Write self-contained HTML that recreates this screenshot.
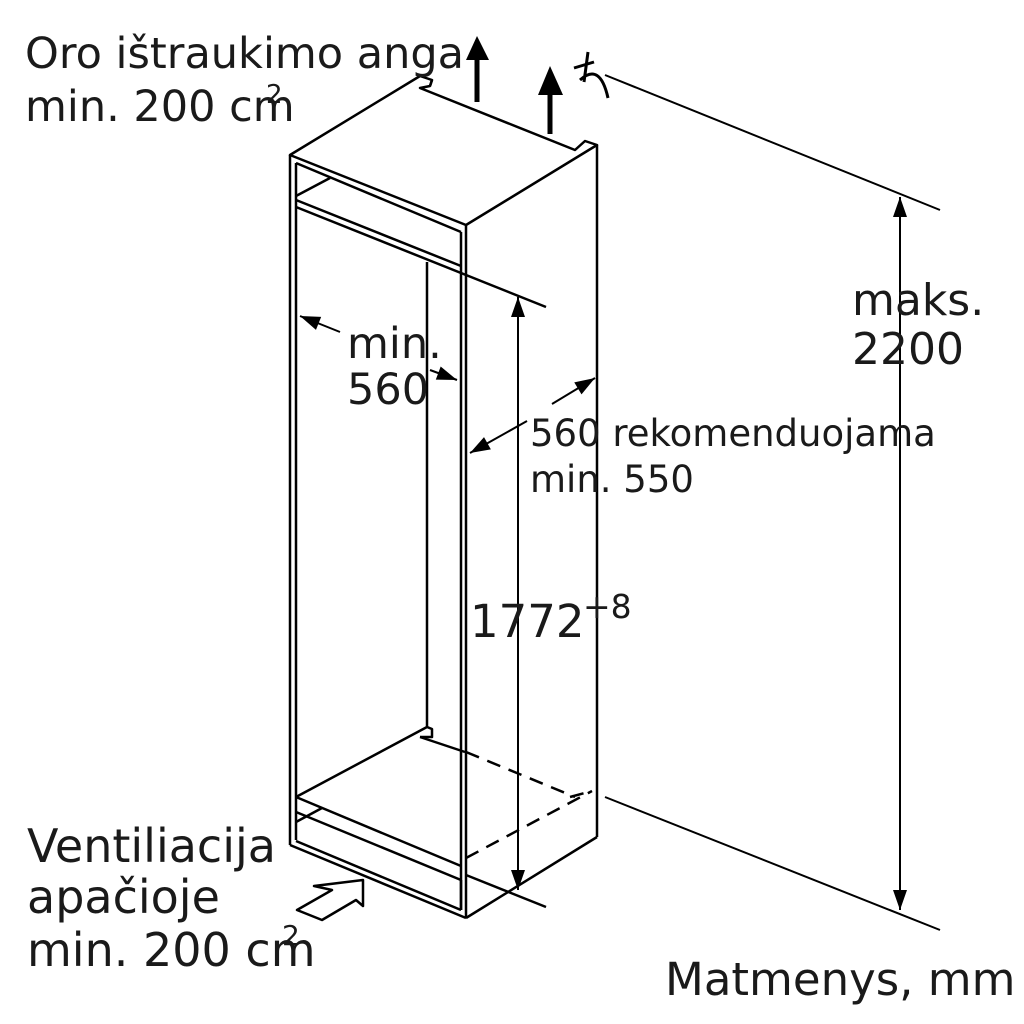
<!DOCTYPE html>
<html><head><style>body{margin:0;background:#fff}svg{display:block}</style></head><body>
<svg width="1024" height="1024" viewBox="0 0 1024 1024" xmlns="http://www.w3.org/2000/svg">
<defs>
<marker id="a" viewBox="0 0 10 10" refX="10" refY="5" markerWidth="22" markerHeight="20" markerUnits="userSpaceOnUse" orient="auto"><path d="M0,1.5 L10,5 L0,8.5 z" fill="#000"/></marker>
</defs>
<g stroke="#000" stroke-width="2.5" fill="none" stroke-linejoin="round">
<path d="M290,155 L420,76 L432,80 L430,86 L420,88 L575,150 L585,141 L597,145 L466,225 Z"/>
<path d="M430,86 L432,80"/>
<line x1="290" y1="155" x2="290" y2="845"/>
<line x1="296" y1="163" x2="296" y2="840"/>
<line x1="466" y1="225" x2="466" y2="918"/>
<line x1="461" y1="232" x2="461" y2="910"/>
<line x1="597" y1="145" x2="597" y2="837"/>
<line x1="427" y1="262" x2="427" y2="727"/>
<line x1="296" y1="163" x2="461" y2="232"/>
<line x1="296" y1="200" x2="461" y2="266"/>
<line x1="296" y1="207" x2="546" y2="307"/>
<line x1="296" y1="196" x2="330" y2="178"/>
<path d="M296,797 L427,727 L432,729 L432,737 L420,737"/>
<line x1="420" y1="737" x2="465" y2="752"/>
<line x1="296" y1="797" x2="461" y2="866"/>
<line x1="296" y1="812" x2="461" y2="880"/>
<line x1="461" y1="880" x2="461" y2="910"/>
<line x1="296" y1="841" x2="461" y2="910"/>
<line x1="296" y1="822" x2="322" y2="808"/>
<line x1="290" y1="845" x2="466" y2="918"/>
<line x1="466" y1="918" x2="597" y2="837"/>
<line x1="466" y1="875" x2="546" y2="907"/>
<path d="M466,752 L575,797 M466,858 L592,791 M570,797 L592,791" stroke-dasharray="14,9"/>
<line x1="605" y1="75" x2="940" y2="210" stroke-width="2"/>
<line x1="605" y1="797" x2="940" y2="930" stroke-width="2"/>
<line x1="900" y1="910" x2="900" y2="197" stroke-width="2" marker-end="url(#a)"/>
<line x1="900" y1="197" x2="900" y2="910" stroke-width="2" marker-end="url(#a)"/>
<line x1="518" y1="890" x2="518" y2="297" stroke-width="2" marker-end="url(#a)"/>
<line x1="518" y1="297" x2="518" y2="890" stroke-width="2" marker-end="url(#a)"/>
<line x1="340" y1="332" x2="300" y2="316" stroke-width="2" marker-end="url(#a)"/>
<line x1="430" y1="370" x2="457" y2="380" stroke-width="2" marker-end="url(#a)"/>
<line x1="527" y1="421" x2="470" y2="453" stroke-width="2" marker-end="url(#a)"/>
<line x1="552" y1="404" x2="595" y2="378" stroke-width="2" marker-end="url(#a)"/>
<line x1="477" y1="102" x2="477" y2="52" stroke-width="5"/>
<path d="M466,60 L477,36 L489,60 Z" fill="#000" stroke="none"/>
<line x1="550" y1="134" x2="550" y2="88" stroke-width="5"/>
<path d="M538,95 L550,66 L563,95 Z" fill="#000" stroke="none"/>
<path d="M588,52 L584,82 M574,68 L594,62 M580,80 Q600,62 608,98" stroke-width="3"/>
<path d="M363,880 L363,906 L356,900 L322,920 L297,910 L332,890 L314,886 Z" fill="#fff" stroke-width="2.5"/>
</g>
<g font-family="'DejaVu Sans','Liberation Sans',sans-serif" fill="#1a1a1a">
<text x="25" y="68" font-size="43">Oro ištraukimo anga</text>
<text x="25" y="121" font-size="43">min. 200 cm</text>
<text x="266" y="103" font-size="26">2</text>
<text x="852" y="315" font-size="44">maks.</text>
<text x="852" y="364" font-size="44">2200</text>
<text x="347" y="358" font-size="43">min.</text>
<text x="347" y="404" font-size="43">560</text>
<text x="530" y="446" font-size="37">560 rekomenduojama</text>
<text x="530" y="492" font-size="37">min. 550</text>
<text x="470" y="637" font-size="45">1772</text>
<text x="583" y="618" font-size="33">+8</text>
<text x="27" y="862" font-size="46">Ventiliacija</text>
<text x="27" y="913" font-size="46">apačioje</text>
<text x="27" y="966" font-size="46">min. 200 cm</text>
<text x="282" y="945" font-size="28">2</text>
<text x="665" y="995" font-size="45">Matmenys, mm</text>
</g>
</svg>
</body></html>
